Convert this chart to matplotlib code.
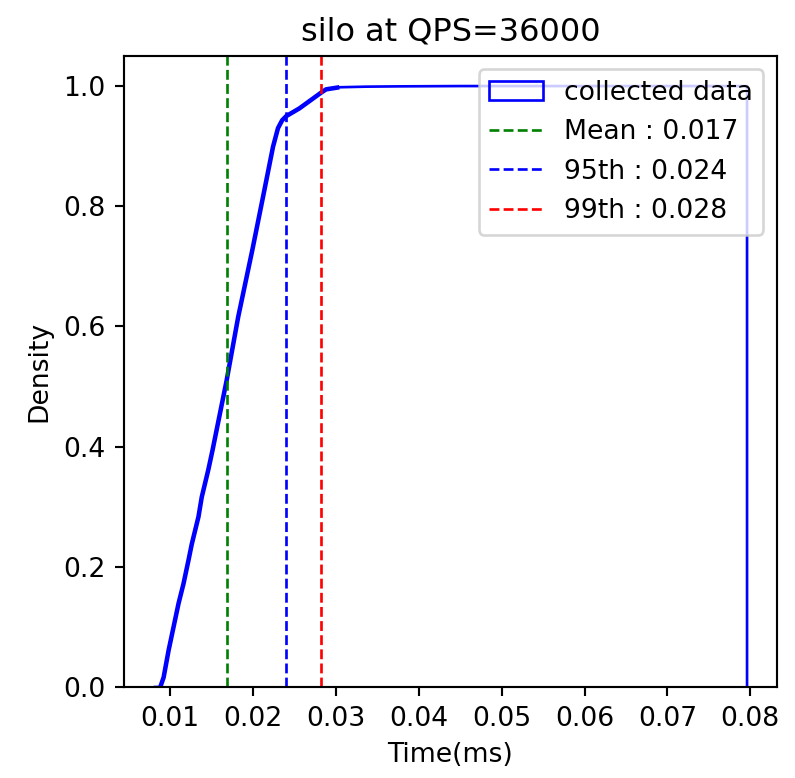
import matplotlib
matplotlib.use("Agg")
import matplotlib.pyplot as plt
from matplotlib.patches import Polygon

# CDF of collected latency data
cdf_time = [0.0080, 0.0088, 0.0092, 0.0098, 0.0104, 0.0110, 0.0116, 0.0122, 0.0126,
            0.0134, 0.0138, 0.0146, 0.0151, 0.0168, 0.0182, 0.0199, 0.0212, 0.0224,
            0.0230, 0.0235, 0.0240, 0.0256, 0.0270, 0.0282, 0.0288, 0.0304, 0.0336,
            0.0376, 0.0450, 0.0796]
cdf_value = [0.0, 0.0, 0.016, 0.061, 0.100, 0.139, 0.172, 0.211, 0.238,
             0.283, 0.316, 0.362, 0.394, 0.510, 0.616, 0.727, 0.816, 0.899,
             0.930, 0.943, 0.950, 0.963, 0.977, 0.989, 0.9945, 0.998, 0.999,
             0.9995, 1.0, 1.0]

mean_val = 0.0168
p95_val = 0.0240
p99_val = 0.0282

title = "silo at QPS=36000"

DPI = 192
fig = plt.figure(figsize=(795 / DPI, 778 / DPI), dpi=DPI)
ax = fig.add_subplot(111)
fig.subplots_adjust(left=0.156, right=0.977, bottom=0.117, top=0.928)

verts = list(zip(cdf_time, cdf_value)) + [(cdf_time[-1], 0.0)]
poly = Polygon(verts, closed=False, fill=False, edgecolor='blue', linewidth=1.0,
               label='collected data')
poly.sticky_edges.y.append(0)
ax.add_patch(poly)
# the rising part of the fine-binned step outline looks heavier
n_rise = 26
ax.plot(cdf_time[1:n_rise], cdf_value[1:n_rise], color='blue', linewidth=1.7,
        solid_capstyle='butt', zorder=1)
ax.autoscale_view()

ax.axvline(mean_val, color='green', linestyle='--', linewidth=1.0,
           label=f"Mean : {mean_val:.3f}")
ax.axvline(p95_val, color='blue', linestyle='--', linewidth=1.0,
           label=f"95th : {p95_val:.3f}")
ax.axvline(p99_val, color='red', linestyle='--', linewidth=1.0,
           label=f"99th : {p99_val:.3f}")

ax.set_title(title)
ax.set_xlabel("Time(ms)")
ax.set_ylabel("Density")
ax.legend(loc='upper right')

fig.savefig("out.png", dpi=DPI)
